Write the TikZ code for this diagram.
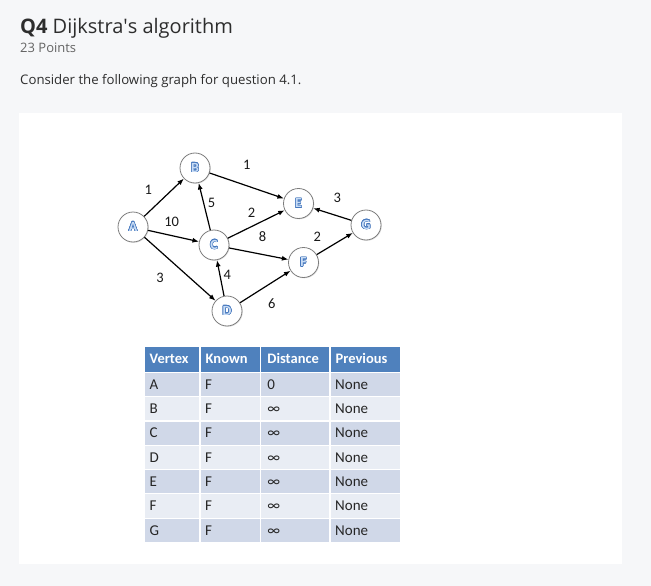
\documentclass[tikz,border=0pt]{standalone}
\usepackage{fontspec}
\setmainfont{Open Sans}
\newfontfamily\calib[Numbers=Lining]{Carlito}
\usepackage{contour}
\contourlength{0.55pt}
\contournumber{16}
\usetikzlibrary{arrows.meta,shadows}
\definecolor{pagebg}{RGB}{246,247,249}
\definecolor{hdr}{RGB}{79,129,189}
\definecolor{rowdark}{RGB}{208,216,232}
\definecolor{rowlight}{RGB}{233,237,244}
\definecolor{letterblue}{RGB}{70,120,190}
\definecolor{letterfill}{RGB}{200,220,245}
\definecolor{titlecol}{RGB}{45,45,45}
\definecolor{subcol}{RGB}{100,100,100}
\definecolor{nodeborder}{RGB}{125,125,125}
\newcommand{\vlet}[1]{\contour{letterblue}{\textcolor{letterfill}{#1}}}
\tikzset{
  vtx/.style={circle, draw=nodeborder, fill=white, line width=0.8pt, minimum size=30pt, inner sep=0pt,
    font=\calib\bfseries\fontsize{14}{14}\selectfont,
    drop shadow={shadow xshift=0.8pt, shadow yshift=-0.8pt, opacity=0.25}},
  edg/.style={-{Latex[length=6.5pt,width=5pt]}, line width=1.2pt, black},
  wlabel/.style={inner sep=0pt, font=\calib\fontsize{14.5}{14.5}\selectfont, text=black!90},
  cellhdr/.style={anchor=west, inner sep=0pt, text height=9.5pt, text depth=0pt, text=white,
    font=\calib\bfseries\fontsize{14.5}{14.5}\selectfont},
  celltxt/.style={anchor=west, inner sep=0pt, text height=9.5pt, text depth=0pt, text=black!85,
    font=\calib\fontsize{15}{15}\selectfont}
}
\begin{document}
\begin{tikzpicture}[x=1pt,y=-1pt]
\fill[pagebg] (0,0) rectangle (651,586);
\useasboundingbox (0,0) rectangle (651,586);
\fill[white] (19,113) rectangle (622,564);

% header texts
\node[anchor=base west, inner sep=0pt, text=titlecol, font=\fontsize{20}{24}\selectfont] (title) at (20,34) {\textbf{Q4} Dijkstra\textquotesingle s algorithm};
\node[anchor=base west, inner sep=0pt, text=subcol, font=\fontsize{13}{16}\selectfont] (points) at (20,52.5) {23 Points};
\node[anchor=base west, inner sep=0pt, text=titlecol, font=\fontsize{13.2}{15}\selectfont] (consider) at (20,84.3) {Consider the following graph for question 4.1.};

% graph
\node[vtx] (A) at (133,227) {\vlet{A}};
\node[vtx] (B) at (195,168) {\vlet{B}};
\node[vtx] (C) at (214,245) {\vlet{C}};
\node[vtx] (D) at (227,311) {\vlet{D}};
\node[vtx] (E) at (298.5,203.5) {\vlet{E}};
\node[vtx] (F) at (303.5,262.5) {\vlet{F}};
\node[vtx] (G) at (366,225) {\vlet{G}};

\draw[edg] (A) -- (B);
\draw[edg] (A) -- (C);
\draw[edg] (A) -- (D);
\draw[edg] (B) -- (E);
\draw[edg] (C) -- (B);
\draw[edg] (C) -- (E);
\draw[edg] (C) -- (F);
\draw[edg] (D) -- (C);
\draw[edg] (D) -- (F);
\draw[edg] (F) -- (G);
\draw[edg] (G) -- (E);

\node[wlabel] (lAB) at (148.3,190) {1};
\node[wlabel] (lAC) at (171.7,221.5) {10};
\node[wlabel] (lAD) at (160,278) {3};
\node[wlabel] (lCB) at (211.5,203) {5};
\node[wlabel] (lBE) at (246.7,164.5) {1};
\node[wlabel] (lCE) at (251.5,213) {2};
\node[wlabel] (lCF) at (262.5,237) {8};
\node[wlabel] (lGE) at (337.3,198) {3};
\node[wlabel] (lFG) at (317.3,237) {2};
\node[wlabel] (lDC) at (227.3,274.5) {4};
\node[wlabel] (lDF) at (271.7,303.3) {6};

% table
\def\cA{144}\def\cB{200}\def\cC{260.7}\def\cD{330}\def\cE{401}
\fill[hdr] (\cA+0.6,346.7) rectangle (\cB-0.6,371.7);
\fill[hdr] (\cB+0.6,346.7) rectangle (\cC-0.6,371.7);
\fill[hdr] (\cC+0.6,346.7) rectangle (\cD-0.6,371.7);
\fill[hdr] (\cD+0.6,346.7) rectangle (\cE-0.6,371.7);
\node[cellhdr] (h1) at (\cA+5.5,359.2) {Vertex};
\node[cellhdr] (h2) at (\cB+5.5,359.2) {Known};
\node[cellhdr] (h3) at (\cC+6.5,359.2) {Distance};
\node[cellhdr] (h4) at (\cD+5.5,359.2) {Previous};

\foreach \i/\v/\d in {1/A/0, 2/B/∞, 3/C/∞, 4/D/∞, 5/E/∞, 6/F/∞, 7/G/∞}{
  \pgfmathsetmacro{\top}{372.3+24.3*(\i-1)}
  \pgfmathsetmacro{\bot}{\top+24.3}
  \pgfmathsetmacro{\mid}{\top+12.15}
  \pgfmathtruncatemacro{\odd}{mod(\i,2)}
  \ifnum\odd=1 \def\rc{rowdark}\else\def\rc{rowlight}\fi
  \fill[\rc] (\cA+0.6,\top+0.6) rectangle (\cB-0.6,\bot-0.6);
  \fill[\rc] (\cB+0.6,\top+0.6) rectangle (\cC-0.6,\bot-0.6);
  \fill[\rc] (\cC+0.6,\top+0.6) rectangle (\cD-0.6,\bot-0.6);
  \fill[\rc] (\cD+0.6,\top+0.6) rectangle (\cE-0.6,\bot-0.6);
  \node[celltxt] (v\i) at (\cA+5.5,\mid) {\v};
  \node[celltxt] (k\i) at (\cB+5,\mid) {F};
  \node[celltxt] (d\i) at (\cC+6.5,\mid) {\d};
  \node[celltxt] (p\i) at (\cD+5,\mid) {None};
}
\end{tikzpicture}
\end{document}
